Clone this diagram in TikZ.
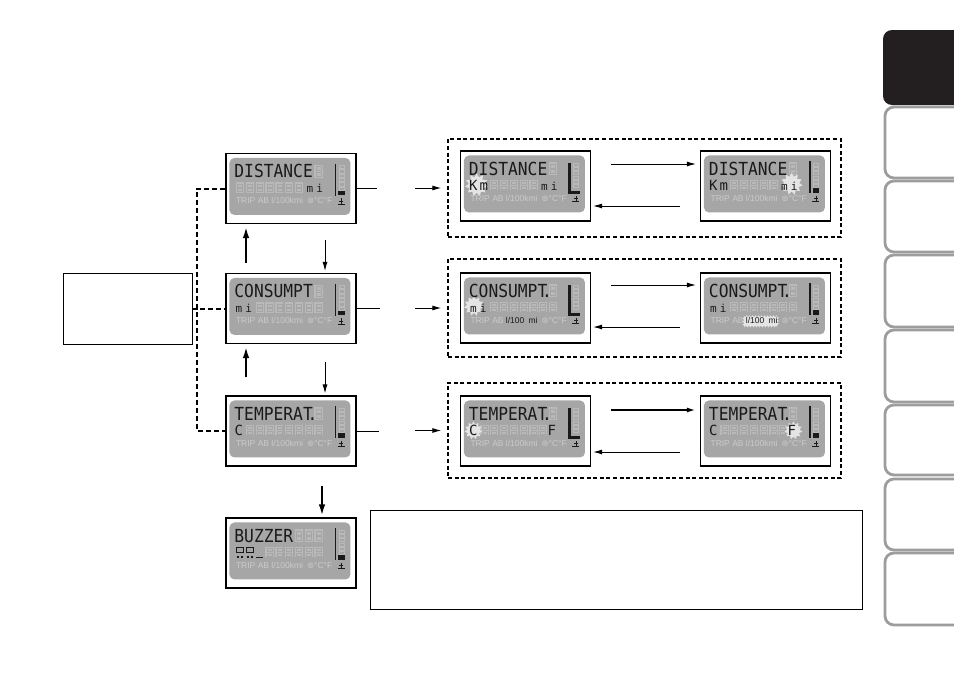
\documentclass[tikz,border=0pt]{standalone}
\usepackage{fontspec}
\setmainfont{Liberation Sans}
\newfontfamily\segfont{DejaVu Sans Mono}
\newfontfamily\djv{DejaVu Sans}
\usepackage{graphicx}
\usetikzlibrary{calc,arrows.meta,shapes.geometric,decorations.pathmorphing}
\definecolor{lcd}{HTML}{A6A6A6}
\definecolor{lcdcell}{HTML}{B9B9B9}
\definecolor{lcdtxt}{HTML}{CBCBCB}
\definecolor{seg}{HTML}{1A1A1A}
\definecolor{burst}{HTML}{E4E4E4}
\definecolor{tabgray}{HTML}{9D9D9D}
\definecolor{tabblack}{HTML}{231F20}
\tikzset{
 lcdframe/.style={draw=black, line width=1.1pt, fill=white, minimum width=130pt, minimum height=70pt, inner sep=0pt},
 plainbox/.style={draw=black, line width=0.9pt, inner sep=0pt},
 grp/.style={draw=black, line width=1.2pt, dash pattern=on 4pt off 2.6pt, inner sep=0pt},
 link/.style={draw=black, line width=2pt, dash pattern=on 5pt off 3pt},
 arr/.style={draw=black, line width=1pt, -{Latex[length=9pt,width=5pt]}},
 arrthick/.style={draw=black, line width=1.8pt, -{Latex[length=11pt,width=6.5pt]}},
 segA/.style={anchor=base west, inner sep=0pt, outer sep=0pt, text=seg, font=\segfont\fontsize{18pt}{18pt}\selectfont},
 segB/.style={anchor=base west, inner sep=0pt, outer sep=0pt, text=seg, font=\segfont\fontsize{14pt}{14pt}\selectfont},
 segC/.style={anchor=base west, inner sep=0pt, outer sep=0pt, text=seg, font=\segfont\fontsize{11pt}{11pt}\selectfont},
 btm/.style={anchor=base west, inner sep=0pt, outer sep=0pt, text=lcdtxt, font=\fontsize{8.5pt}{9pt}\selectfont},
 btmdark/.style={anchor=base west, inner sep=0pt, outer sep=0pt, text=seg, font=\fontsize{8.5pt}{9pt}\selectfont},
 burstnode/.style={star, star points=11, star point ratio=1.45, fill=burst, inner sep=0pt}
}
\newcommand\faintA[1]{%
 \fill[lcdcell] ({6.6+9.8*(#1-1)},6.7) rectangle ++(8.2,13.3);
 \draw[lcd, line width=0.6pt] ({8.2+9.8*(#1-1)},8.4) rectangle ++(5,4.4) ({8.2+9.8*(#1-1)},14.1) rectangle ++(5,4.2);}
\newcommand\faintB[1]{%
 \fill[lcdcell] ({6.6+9.8*(#1-1)},24.4) rectangle ++(8.2,10.6);
 \draw[lcd, line width=0.6pt] ({8.2+9.8*(#1-1)},25.9) rectangle ++(5,3.3) ({8.2+9.8*(#1-1)},30.4) rectangle ++(5,3.2);}
\newcommand\rowA[1]{\node[segA] (\cur-a) at (5,20) {\scalebox{0.904}[1]{#1}};}
\newcommand\rowB[3]{\node[segB] (\cur-#1) at (#2,35) {#3};}
\newcommand\unitmi[2]{\node[segC] (\cur-#1) at (#2,35) {m\hspace{3pt}i};}
\newcommand\bottomtext{%
 \node[btm] (\cur-t1) at (6.6,46) {TRIP AB l/100kmi};
 \node[btm] (\cur-t2) at (77.6,46) {{\djv ⊛}°C°F};}
\newcommand\bottomcons{%
 \node[btm] (\cur-t1) at (6.6,46) {TRIP AB};
 \node[btmdark] (\cur-t3) at (42,46) {l/100\hspace{4.2pt}mi};
 \node[btm] (\cur-t2) at (77.6,46) {{\djv ⊛}°C°F};}
\newcommand\burst[4]{\node[burstnode, minimum size=#3pt] (\cur-#4) at (#1,#2) {};}
\newcommand\ladder{\foreach \k in {0,...,5}{\draw[lcdcell, line width=0.6pt] (109.5,{7.5+\k*4.3}) rectangle ++(5,3.2);}}
\newcommand\barN{\ladder
 \draw[seg, line width=1.5pt] (106,5.7) -- (106,37.8);
 \fill[seg] (108.6,32.8) rectangle (115.4,37.4);}
\newcommand\barL{\ladder
 \draw[seg, line width=2.8pt, line join=miter] (105.6,8) -- (105.6,37.2) -- (116.5,37.2);}
\newcommand\anchorsym{\draw[seg, line width=0.7pt] (112,40.5) -- (112,46) (108.5,46) -- (115.5,46) (110,43.2) -- (114,43.2);}
\newcommand\bzglyph[1]{%
 \draw[seg, line width=1.1pt] ({7.4+9.8*(#1-1)},25.2) rectangle ++(6.4,5.2);
 \draw[seg, line width=1.1pt] ({7.4+9.8*(#1-1)},34.5) -- ++(2.2,0) ({11.6+9.8*(#1-1)},34.5) -- ++(2.2,0);}
\newcommand\LCD[4]{%
 \def\cur{#1}%
 \node[lcdframe] (#1) at (#2,#3) {};
 \begin{scope}[shift={($(#1.north west)+(4,5)$)}]
  \fill[lcd, rounded corners=5pt] (0,0) rectangle (121,57);
  #4
  \anchorsym
 \end{scope}}
\begin{document}
\begin{tikzpicture}[x=1pt,y=-1pt]
\useasboundingbox (0,0) rectangle (954,675);
\fill[white] (0,0) rectangle (954,675);
\clip (0,0) rectangle (954,675);

% side tabs
\fill[tabblack, rounded corners=9pt] (965,30) -- (883,30) -- (883,105) -- (965,105) -- cycle;
\foreach \t/\b in {107/178,181/252,255/327,330/402,405/475,479/550,553/625}
  \draw[tabgray, line width=2.8pt, rounded corners=9pt] (965,\t) -- (885,\t) -- (885,\b) -- (965,\b);

% plain boxes
\node[plainbox, minimum width=129pt, minimum height=71pt] (lb) at (127.5,308.5) {};
\node[plainbox, minimum width=492pt, minimum height=99pt] (tb) at (616,559.5) {};

% dashed groups
\node[grp, minimum width=393pt, minimum height=98pt] (G1) at (644.5,188) {};
\node[grp, minimum width=393pt, minimum height=98pt] (G2) at (644.5,308) {};
\node[grp, minimum width=393pt, minimum height=95pt] (G3) at (644.5,430.5) {};

% ---------- DISTANCE ----------
\LCD{distL}{291}{188.5}{%
  \faintA{9}
  \foreach \i in {1,...,7}{\faintB{\i}}
  \rowA{DISTANCE}
  \unitmi{u}{77.2}
  \bottomtext
  \barN}
\LCD{g1a}{525.5}{186}{%
  \faintA{9}
  \foreach \i in {3,...,7}{\faintB{\i}}
  \burst{12.7}{29.5}{23}{b}
  \rowA{DISTANCE}
  \rowB{k}{5.2}{K\hspace{2pt}m}
  \unitmi{u}{77.2}
  \bottomtext
  \barL}
\LCD{g1b}{765.5}{186}{%
  \faintA{9}
  \foreach \i in {3,...,7}{\faintB{\i}}
  \burst{87.7}{28.5}{22}{b}
  \rowA{DISTANCE}
  \rowB{k}{5.2}{K\hspace{2pt}m}
  \unitmi{u}{77.2}
  \bottomtext
  \barN}

% ---------- CONSUMPT ----------
\LCD{consL}{291}{308.5}{%
  \faintA{9}
  \foreach \i in {3,...,9}{\faintB{\i}}
  \rowA{CONSUMPT}
  \unitmi{u}{6.2}
  \bottomtext
  \barN}
\LCD{g2a}{525.5}{308}{%
  \faintA{9}
  \foreach \i in {3,...,9}{\faintB{\i}}
  \burst{10}{28.5}{20}{b}
  \rowA{CONSUMPT\kern-0.32em.}
  \unitmi{u}{6.2}
  \bottomcons
  \barL}
\LCD{g2b}{765.5}{308}{%
  \faintA{9}
  \foreach \i in {3,...,9}{\faintB{\i}}
  \rowA{CONSUMPT\kern-0.32em.}
  \unitmi{u}{6.2}
  \fill[burst, decorate, decoration={zigzag, segment length=3pt, amplitude=1pt}] (39.5,38.8) rectangle (74,49);
  \bottomcons
  \barN}

% ---------- TEMPERAT ----------
\LCD{tempL}{291}{431}{%
  \faintA{9}
  \foreach \i in {2,...,9}{\faintB{\i}}
  \rowA{TEMPERAT\kern-0.32em.}
  \rowB{c}{5.2}{C}
  \bottomtext
  \barN}
\LCD{g3a}{525.5}{431}{%
  \faintA{9}
  \foreach \i in {2,...,8}{\faintB{\i}}
  \burst{9.5}{30}{18}{b}
  \rowA{TEMPERAT\kern-0.32em.}
  \rowB{c}{5.2}{C}
  \rowB{f}{83.6}{F}
  \bottomtext
  \barL}
\LCD{g3b}{765.5}{431}{%
  \faintA{9}
  \foreach \i in {2,...,8}{\faintB{\i}}
  \burst{89.5}{30}{18}{b}
  \rowA{TEMPERAT\kern-0.32em.}
  \rowB{c}{5.2}{C}
  \rowB{f}{83.6}{F}
  \bottomtext
  \barN}

% ---------- BUZZER ----------
\LCD{buzz}{291}{553}{%
  \foreach \i in {7,8,9}{\faintA{\i}}
  \foreach \i in {4,...,9}{\faintB{\i}}
  \rowA{BUZZER}
  \bzglyph{1}
  \bzglyph{2}
  \draw[seg, line width=1.1pt] (26.6,34.6) -- ++(7,0);
  \bottomtext
  \barN}

% ---------- dashed links from the left box ----------
\coordinate (vx) at (197,308.5);
\draw[link] (distL.west) -| (vx) |- (tempL.west);
\draw[link] (lb.east) -- (consL.west);

% ---------- vertical arrows ----------
\draw[arrthick] ($(consL.north)+(-45,-10)$) -- ($(distL.south)+(-45,3)$);
\draw[arr] ($(distL.south)+(34,16)$) -- ($(consL.north)+(34,-2)$);
\draw[arrthick] ($(tempL.north)+(-45,-18)$) -- ($(consL.south)+(-45,3)$);
\draw[arr] ($(consL.south)+(34,18)$) -- ($(tempL.north)+(34,-2)$);
\draw[arrthick] ($(tempL.south)+(31,19)$) -- ($(buzz.north)+(31,-2)$);

% ---------- stubs and arrows to the groups ----------
\coordinate (s1) at ($(distL.east)+(20,0)$);
\coordinate (s2) at ($(consL.east)+(23,0)$);
\coordinate (s3) at ($(tempL.east)+(22,0)$);
\draw[line width=1pt] (distL.east) -- (s1);
\draw[line width=1.8pt] (consL.east) -- (s2);
\draw[line width=1pt] (tempL.east) -- (s3);
\draw[arr] ($(G1.west)+(-32,0)$) -- ($(G1.west)+(-6,0)$);
\draw[arr] ($(G2.west)+(-32,0)$) -- ($(G2.west)+(-6,0)$);
\draw[arr] ($(G3.west)+(-32,0)$) -- ($(G3.west)+(-6,0)$);

% ---------- arrows inside the groups ----------
\draw[arr] ($(g1a.east)+(20,-22)$) -- ($(g1b.west)+(-4,-22)$);
\draw[arr] ($(g1b.west)+(-20,20)$) -- ($(g1a.east)+(2,20)$);
\draw[arr] ($(g2a.east)+(20,-23)$) -- ($(g2b.west)+(-4,-23)$);
\draw[arr] ($(g2b.west)+(-20,19)$) -- ($(g2a.east)+(2,19)$);
\draw[arr, line width=1.8pt] ($(g3a.east)+(20,-21)$) -- ($(g3b.west)+(-4,-21)$);
\draw[arr] ($(g3b.west)+(-20,21)$) -- ($(g3a.east)+(2,21)$);
\end{tikzpicture}
\end{document}
